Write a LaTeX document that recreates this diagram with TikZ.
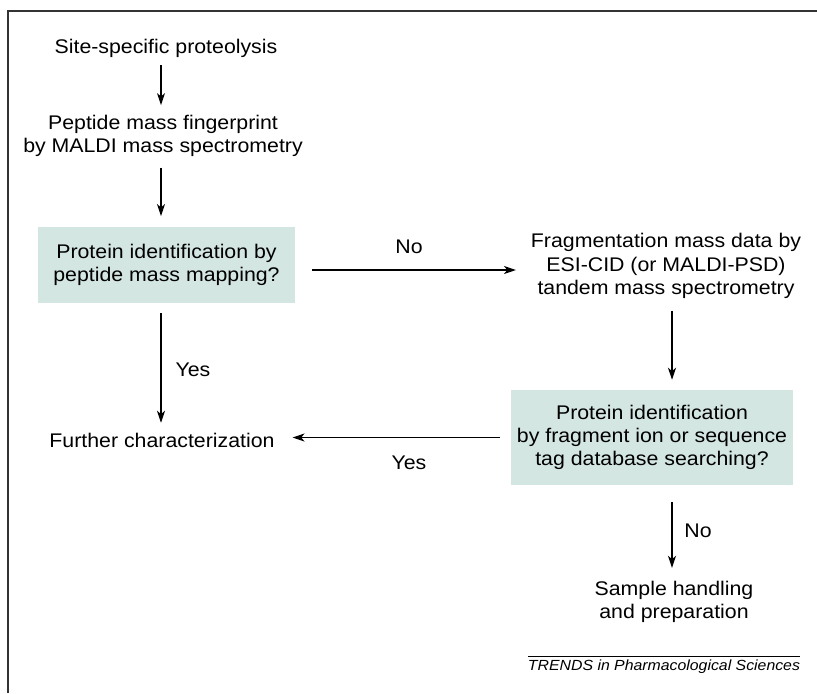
\documentclass[tikz,border=0pt]{standalone}
\usepackage{fontspec}
\setmainfont{Liberation Sans}[FakeStretch=1.08]
\definecolor{TIPSteal}{HTML}{D3E6E2}
\definecolor{TIPSframe}{HTML}{333333}
\usetikzlibrary{arrows.meta, positioning}

\begin{document}
\begin{tikzpicture}[x=0.75pt, y=-0.75pt,
      every node/.style={font=\fontsize{14.8}{17.5}\selectfont},
      txt/.style={inner sep=0pt, outer sep=0pt, align=center},
      query/.style={fill=TIPSteal, inner sep=0pt, align=center},
      flow/.style={-{Stealth[length=9pt, width=6pt, inset=2.5pt]}, line width=0.9pt},
      lbl/.style={inner sep=0pt}]
   \useasboundingbox (0,0) rectangle (817,693);
   % Frame
   \draw[TIPSframe, line width=1.2pt] (8,693) -- (8,11) -- (817,11);
   % Columns the arrows run in
   \coordinate (lcol) at (161,0);
   \coordinate (rcol) at (672,0);
   \coordinate (norow) at (0,270);
   % Left column
   \node[txt] (prot) at (166,48) {Site-specific proteolysis};
   \node[txt] (pmf) at (163,136) {Peptide mass fingerprint\\by MALDI mass spectrometry};
   \node[query, minimum width=192.75pt, minimum height=57pt] (pmm) at (166.5,265)
      {Protein identification by\\peptide mass mapping?};
   \node[txt] (further) at (162,440) {Further characterization};
   % Right column
   \node[txt] (frag) at (666,266)
      {Fragmentation mass data by\\ESI-CID (or MALDI-PSD)\\tandem mass spectrometry};
   \node[query, minimum width=211.5pt, minimum height=71.25pt] (tag) at (652,437.5)
      {Protein identification\\by fragment ion or sequence\\tag database searching?};
   \node[txt] (sample) at (674,602) {Sample handling\\and preparation};
   % Arrows
   \draw[flow, shorten <=6pt, shorten >=7.5pt] (prot.south -| lcol) -- (pmf.north -| lcol);
   \draw[flow, shorten <=8pt, shorten >=8pt] (pmf.south -| lcol) -- (pmm.north -| lcol);
   \draw[flow, shorten <=7.5pt, shorten >=7.5pt] (pmm.south -| lcol) -- (further.north -| lcol);
   \draw[flow, shorten <=12.75pt, shorten >=11.25pt] (pmm.east |- norow) -- (frag.west |- norow);
   \draw[flow, shorten <=9pt, shorten >=7.5pt] (frag.south -| rcol) -- (tag.north -| rcol);
   \draw[flow, shorten <=8.25pt, shorten >=13.5pt] (tag.west) -- (tag.west -| further.east);
   \draw[flow, shorten <=12.75pt, shorten >=10pt] (tag.south -| rcol) -- (sample.north -| rcol);
   % Answers
   \node[lbl] (no1) at (409,247) {No};
   \node[lbl] (yes1) at (193,370) {Yes};
   \node[lbl] (yes2) at (409,463) {Yes};
   \node[lbl] (no2) at (698,531) {No};
   % Source line
   \node[txt, font=\fontsize{11}{12}\selectfont\itshape] (src) at (664,667)
      {TRENDS in Pharmacological Sciences};
   \draw[line width=0.6pt] ([yshift=3pt]src.north west) -- ([yshift=3pt]src.north east);
\end{tikzpicture}
\end{document}
